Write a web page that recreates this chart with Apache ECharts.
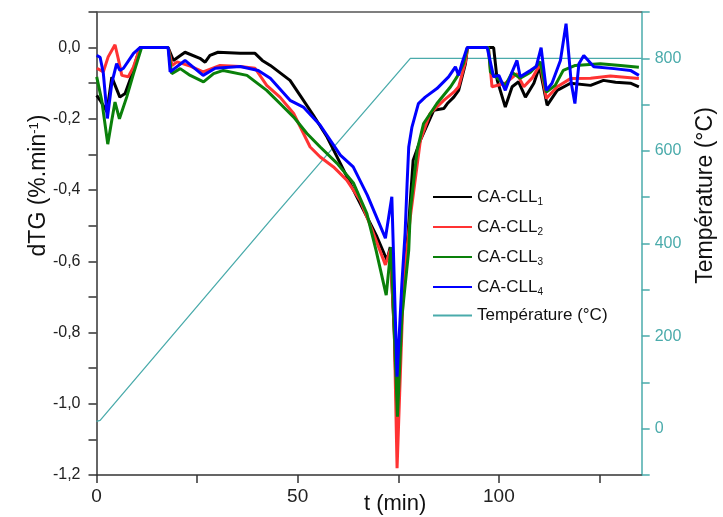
<!DOCTYPE html>
<html>
<head>
<meta charset="utf-8">
<script src="https://cdn.jsdelivr.net/npm/echarts@6/dist/echarts.min.js"></script>
<style>
html,body{margin:0;padding:0;background:#fff;}
#c{width:723px;height:517px;}
</style>
</head>
<body>
<div id="c"></div>
<script>
// ---- data (t in min, dTG in %/min, T in °C) ----
var seriesNames = ['CA-CLL1', 'CA-CLL2', 'CA-CLL3', 'CA-CLL4', 'Température (°C)'];
var xTicks = [0, 50, 100];

var cll1 = [[0.05,-0.134],[0.9,-0.148],[2.6,-0.18],[3.8,-0.083],[5.8,-0.139],[7.1,-0.129],[8.3,-0.092],[10.8,0],[17.8,0],[19.1,-0.036],[22.0,-0.013],[25.7,-0.03],[27.0,-0.041],[28.2,-0.022],[30.2,-0.013],[35.7,-0.016],[39.4,-0.016],[41.2,-0.036],[43.2,-0.05],[48.1,-0.092],[50.6,-0.134],[53.9,-0.19],[57.3,-0.251],[60.6,-0.325],[64.7,-0.419],[67.2,-0.475],[69.7,-0.531],[72.2,-0.597],[73.0,-0.56],[74.0,-0.8],[74.7,-1.045],[76.0,-0.71],[77.5,-0.51],[78.7,-0.316],[80.5,-0.26],[83.8,-0.176],[86.3,-0.171],[87.2,-0.157],[88.8,-0.139],[90.0,-0.12],[91.7,-0.045],[92.2,0],[98.7,0],[99.6,-0.092],[101.6,-0.167],[103.3,-0.11],[104.9,-0.096],[106.6,-0.139],[108.7,-0.1],[110.1,-0.054],[112.0,-0.162],[114.5,-0.12],[117.8,-0.1],[122.8,-0.106],[126.0,-0.092],[129.0,-0.097],[132.7,-0.1],[134.8,-0.11]];

var cll2 = [[0.1,-0.058],[1.7,-0.068],[2.9,-0.026],[4.6,0.008],[5.4,-0.031],[6.3,-0.078],[7.9,-0.082],[9.2,-0.054],[10.8,0],[17.8,0],[18.8,-0.05],[20.0,-0.04],[23.3,-0.052],[26.5,-0.068],[30.7,-0.05],[35.7,-0.053],[39.4,-0.058],[42.3,-0.106],[45.6,-0.139],[49.0,-0.185],[53.1,-0.279],[55.6,-0.307],[58.9,-0.335],[62.2,-0.372],[65.5,-0.428],[68.5,-0.512],[71.8,-0.61],[73.0,-0.568],[74.0,-0.79],[74.7,-1.181],[76.3,-0.662],[78.0,-0.475],[80.5,-0.26],[82.9,-0.185],[86.3,-0.148],[88.8,-0.125],[90.0,-0.11],[91.7,-0.04],[92.2,0],[97.4,0],[98.3,-0.11],[101.6,-0.1],[104.5,-0.073],[106.2,-0.11],[108.3,-0.085],[110.3,-0.045],[111.8,-0.143],[114.5,-0.11],[117.8,-0.087],[122.8,-0.086],[127.7,-0.08],[134.8,-0.087]];

var cll3 = [[0.05,-0.082],[1.3,-0.148],[2.8,-0.271],[3.8,-0.204],[4.6,-0.153],[5.7,-0.2],[7.5,-0.139],[9.2,-0.073],[11.2,0],[17.8,0],[18.7,-0.073],[20.8,-0.059],[23.3,-0.078],[26.6,-0.096],[29.1,-0.073],[31.5,-0.064],[37.4,-0.078],[42.3,-0.12],[45.6,-0.157],[49.0,-0.195],[52.3,-0.241],[55.6,-0.279],[59.8,-0.325],[63.9,-0.381],[67.2,-0.466],[69.5,-0.57],[72.0,-0.695],[73.2,-0.56],[74.0,-0.79],[74.8,-1.036],[75.9,-0.756],[77.6,-0.569],[78.0,-0.456],[79.7,-0.288],[81.3,-0.213],[84.6,-0.157],[88.0,-0.11],[89.6,-0.082],[91.2,-0.045],[92.2,0],[97.4,0],[97.9,-0.068],[101.6,-0.106],[103.3,-0.07],[105.3,-0.086],[107.8,-0.07],[110.3,-0.04],[111.8,-0.125],[114.0,-0.106],[116.0,-0.064],[119.0,-0.05],[125.2,-0.045],[130.2,-0.05],[134.8,-0.055]];

var cll4 = [[0.05,-0.022],[0.9,-0.027],[1.7,-0.072],[2.7,-0.199],[3.8,-0.1],[5.0,-0.045],[5.8,-0.064],[6.7,-0.058],[9.2,-0.016],[10.8,0],[17.8,0],[18.3,-0.068],[22.0,-0.036],[26.5,-0.078],[29.5,-0.058],[35.7,-0.053],[40.2,-0.064],[43.2,-0.086],[48.1,-0.148],[51.4,-0.167],[55.6,-0.218],[60.6,-0.302],[63.8,-0.335],[67.3,-0.414],[71.8,-0.535],[73.4,-0.419],[74.7,-0.924],[75.9,-0.662],[76.7,-0.52],[77.2,-0.38],[77.6,-0.279],[78.4,-0.223],[80.0,-0.157],[81.7,-0.139],[84.6,-0.115],[87.5,-0.082],[89.2,-0.054],[90.0,-0.078],[90.8,-0.045],[92.1,0],[97.1,0],[98.7,-0.082],[100.0,-0.078],[101.6,-0.12],[103.3,-0.068],[104.5,-0.036],[105.3,-0.082],[107.8,-0.064],[109.3,-0.053],[110.5,0],[111.8,-0.12],[113.2,-0.1],[115.3,-0.036],[116.7,0.067],[118.0,-0.1],[118.9,-0.157],[119.9,-0.045],[121.1,-0.022],[123.6,-0.054],[128.6,-0.059],[132.7,-0.064],[134.8,-0.078]];

var temperature = [[0,16],[0.9,18],[43.2,450],[78,800],[135.5,800]];

// ---- chart ----
var FONT = '"Liberation Sans", Arial, sans-serif';
var TEAL = '#4aabab';
var chart = echarts.init(document.getElementById('c'), null, {renderer: 'canvas'});

function fmtLeft(v) {
  var k = Math.round(v * 10);
  if (k % 2 !== 0 || k > 0) return '';
  var s = (Math.abs(k) / 10).toFixed(1).replace('.', ',');
  return k < 0 ? '-' + s : s;
}

function lineSeries(name, data, color) {
  return {
    name: name, type: 'line', data: data, yAxisIndex: 0,
    symbol: 'none', smooth: false, animation: false,
    lineStyle: {color: color, width: 3}, itemStyle: {color: color}, z: 3
  };
}

var option = {
  animation: false,
  backgroundColor: '#fff',
  textStyle: {fontFamily: FONT},
  grid: {left: 96.5, right: 81.3, top: 12, bottom: 42, containLabel: false, outerBoundsMode: 'none'},
  legend: {
    orient: 'vertical', left: 427, top: 182,
    itemWidth: 39, itemHeight: 14, itemGap: 10,
    data: seriesNames,
    itemStyle: {opacity: 0},
    textStyle: {
      fontFamily: FONT, fontSize: 17, color: '#111',
      rich: {
        n: {fontSize: 17, fontFamily: FONT, color: '#111', lineHeight: 20},
        s: {fontSize: 10, fontFamily: FONT, color: '#111', verticalAlign: 'bottom', padding: [10, 0, 0, 0], lineHeight: 20}
      }
    },
    formatter: function (name) {
      var m = name.match(/^CA-CLL(\d)$/);
      if (m) return '{n|CA-CLL}{s|' + m[1] + '}';
      return '{n|' + name + '}';
    }
  },
  xAxis: [{
    type: 'value', min: 0, max: 135.5, interval: 25, position: 'bottom',
    name: 't (min)', nameLocation: 'middle', nameGap: 18, nameMoveOverlap: false,
    nameTextStyle: {fontSize: 22, color: '#111', fontFamily: FONT, padding: [0, 0, 0, 52]},
    axisLine: {show: true, onZero: false, lineStyle: {color: '#333', width: 1.5}},
    axisTick: {show: true, inside: false, length: 8, lineStyle: {color: '#333', width: 1.5}},
    axisLabel: {
      show: true, margin: 12, fontSize: 19, color: '#222', fontFamily: FONT, showMaxLabel: false,
      formatter: function (v) { return xTicks.indexOf(Math.round(v)) >= 0 && Math.abs(v - Math.round(v)) < 1e-6 ? String(Math.round(v)) : ''; }
    },
    splitLine: {show: false}
  }, {
    type: 'value', min: 0, max: 135.5, position: 'top',
    axisLine: {show: true, onZero: false, lineStyle: {color: '#555', width: 1.5}},
    axisTick: {show: false}, axisLabel: {show: false}, splitLine: {show: false}
  }],
  yAxis: [{
    type: 'value', min: -1.2, max: 0.1, interval: 0.1, position: 'left',
    name: '{n|dTG (%.min}{sup|-1}{n|)}', nameLocation: 'middle', nameGap: 46, nameRotate: 90, nameMoveOverlap: false,
    nameTextStyle: {
      fontSize: 23, color: '#111', fontFamily: FONT, padding: [0, 0, 0, 116],
      rich: {
        n: {fontSize: 23, color: '#111', fontFamily: FONT},
        sup: {fontSize: 13, color: '#111', fontFamily: FONT, verticalAlign: 'top', padding: [0, 0, 10, 0]}
      }
    },
    axisLine: {show: true, onZero: false, lineStyle: {color: '#333', width: 1.5}},
    axisTick: {show: true, inside: false, length: 8, lineStyle: {color: '#333', width: 1.5}},
    axisLabel: {show: true, margin: 16, fontSize: 16, color: '#222', fontFamily: FONT, formatter: fmtLeft},
    splitLine: {show: false}
  }, {
    type: 'value', min: -100, max: 900, interval: 100, position: 'right',
    name: 'Température (°C)', nameLocation: 'middle', nameGap: 52, nameRotate: 90, nameMoveOverlap: false,
    nameTextStyle: {fontSize: 23, color: '#111', fontFamily: FONT, padding: [0, 0, 0, 96]},
    axisLine: {show: true, onZero: false, lineStyle: {color: TEAL, width: 1.5}},
    axisTick: {show: true, inside: false, length: 8, lineStyle: {color: TEAL, width: 1.5}},
    axisLabel: {
      show: true, margin: 13, fontSize: 16, color: TEAL, fontFamily: FONT,
      formatter: function (v) { var k = Math.round(v); return (k % 200 === 0 && k >= 0 && k <= 800) ? String(k) : ''; }
    },
    splitLine: {show: false}
  }],
  series: [
    {
      name: 'Température (°C)', type: 'line', data: temperature, yAxisIndex: 1,
      symbol: 'none', animation: false, lineStyle: {color: TEAL, width: 1.3}, itemStyle: {color: TEAL}, z: 2
    },
    lineSeries('CA-CLL1', cll1, '#000000'),
    lineSeries('CA-CLL2', cll2, '#ff3333'),
    lineSeries('CA-CLL3', cll3, '#0a800a'),
    lineSeries('CA-CLL4', cll4, '#0000ff')
  ]
};
chart.setOption(option);
</script>
</body>
</html>
